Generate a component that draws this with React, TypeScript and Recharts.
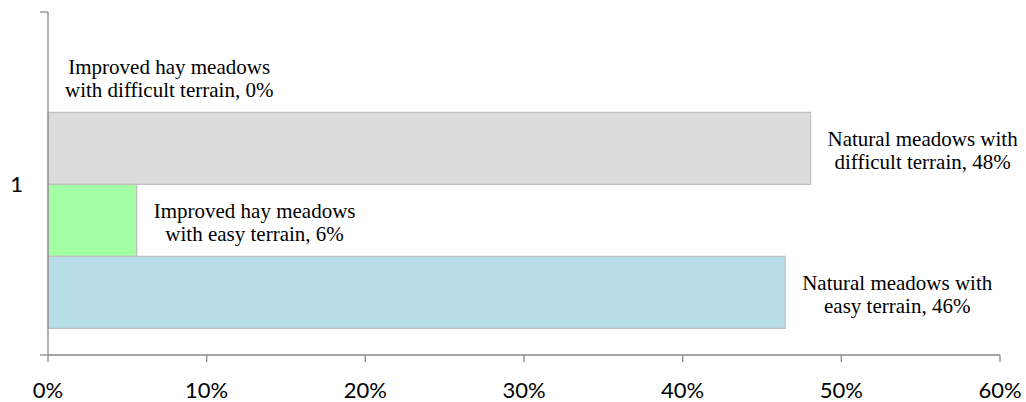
import React from 'react';
import { BarChart, Bar, XAxis, YAxis, LabelList } from 'recharts';

if (typeof document !== 'undefined') {
  document.body.style.margin = '0';
}

const categories = ['1'];
const seriesKeys = ['impDiff', 'natDiff', 'impEasy', 'natEasy'];
const seriesNames = [
  'Improved hay meadows with difficult terrain',
  'Natural meadows with difficult terrain',
  'Improved hay meadows with easy terrain',
  'Natural meadows with easy terrain',
];
const seriesValues = [0, 48.06, 5.59, 46.46];
const labelLines = [
  ['Improved hay meadows', 'with difficult terrain, 0%'],
  ['Natural meadows with', 'difficult terrain, 48%'],
  ['Improved hay meadows', 'with easy terrain, 6%'],
  ['Natural meadows with', 'easy terrain, 46%'],
];
const xTicks = [0, 10, 20, 30, 40, 50, 60];
const fills = ['#dcdcdc', '#dcdcdc', '#a3ffa3', '#b7dde8'];

const data = categories.map((name) => {
  const row: any = { name };
  seriesKeys.forEach((k, i) => {
    row[k] = seriesValues[i];
  });
  return row;
});

const AXIS = '#8a8a8a';
const LABEL_FONT = '21px "Liberation Serif"';
const Y_TICK_SIZE = 8;
const Y_TICK_MARGIN = 17;

let ctx: CanvasRenderingContext2D | null = null;
const measure = (t: string) => {
  if (!ctx && typeof document !== 'undefined') {
    ctx = document.createElement('canvas').getContext('2d');
  }
  if (!ctx) return t.length * 9;
  ctx.font = LABEL_FONT;
  return ctx.measureText(t).width;
};

const makeLabel = (si: number) => (props: any) => {
  const vb = props.viewBox || {};
  const x = Number(props.x ?? vb.x);
  const y = Number(props.y ?? vb.y);
  const height = Number(props.height ?? vb.height);
  const barW = seriesValues[si] > 0 ? Number(props.width ?? vb.width) : 0;
  const lines = labelLines[si];
  const w = Math.max(...lines.map(measure));
  const cx = x + barW + 17 + w / 2;
  const cy = y + height / 2 + 2;
  return (
    <text
      textAnchor="middle"
      fontFamily='"Liberation Serif", serif'
      fontSize={21}
      fill="#000"
    >
      <tspan x={cx} y={cy - 11.5} dominantBaseline="central">{lines[0]}</tspan>
      <tspan x={cx} y={cy + 11.5} dominantBaseline="central">{lines[1]}</tspan>
    </text>
  );
};

const YTick = (props: any) => {
  const { x, y, payload, height } = props;
  const ax = Number(x) + Y_TICK_MARGIN;
  const h = Number(height) || 343;
  return (
    <g>
      <text
        x={x}
        y={y}
        textAnchor="end"
        dominantBaseline="central"
        fontFamily="Lato, sans-serif"
        fontSize={22}
        fill="#000"
      >
        {payload.value}
      </text>
      <line x1={ax} x2={ax + Y_TICK_SIZE} y1={y - h / 2} y2={y - h / 2} stroke={AXIS} strokeWidth={1.3} />
      <line x1={ax} x2={ax + Y_TICK_SIZE} y1={y + h / 2} y2={y + h / 2} stroke={AXIS} strokeWidth={1.3} />
    </g>
  );
};

export default function App() {
  return (
    <div style={{ width: 1026, height: 402, background: '#fff' }}>
      <BarChart
        width={1026}
        height={402}
        data={data}
        layout="vertical"
        margin={{ top: 12, right: 26, left: 0, bottom: 0 }}
        barCategoryGap="8.3%"
        barGap={0}
      >
        <XAxis
          type="number"
          domain={[0, 60]}
          ticks={xTicks}
          tickFormatter={(v: number) => `${v}%`}
          axisLine={{ stroke: AXIS, strokeWidth: 1.3 }}
          tickLine={{ stroke: AXIS, strokeWidth: 1.3 }}
          tickSize={7}
          tickMargin={20}
          height={47}
          interval={0}
          tick={{ fontFamily: 'Lato, sans-serif', fontSize: 22, fill: '#000' }}
        />
        <YAxis
          type="category"
          dataKey="name"
          width={48}
          axisLine={{ stroke: AXIS, strokeWidth: 1.3 }}
          tickLine={false}
          tickSize={Y_TICK_SIZE}
          tickMargin={Y_TICK_MARGIN}
          tick={<YTick />}
        />
        {seriesKeys.map((k, i) => {
          const visible = seriesValues[i] > 0;
          return (
            <Bar
              key={k}
              dataKey={k}
              name={seriesNames[i]}
              fill={visible ? fills[i] : 'none'}
              stroke={visible ? '#bfbfbf' : 'none'}
              strokeWidth={1.3}
              minPointSize={1}
              isAnimationActive={false}
            >
              <LabelList dataKey={k} content={makeLabel(i)} />
            </Bar>
          );
        })}
      </BarChart>
    </div>
  );
}
